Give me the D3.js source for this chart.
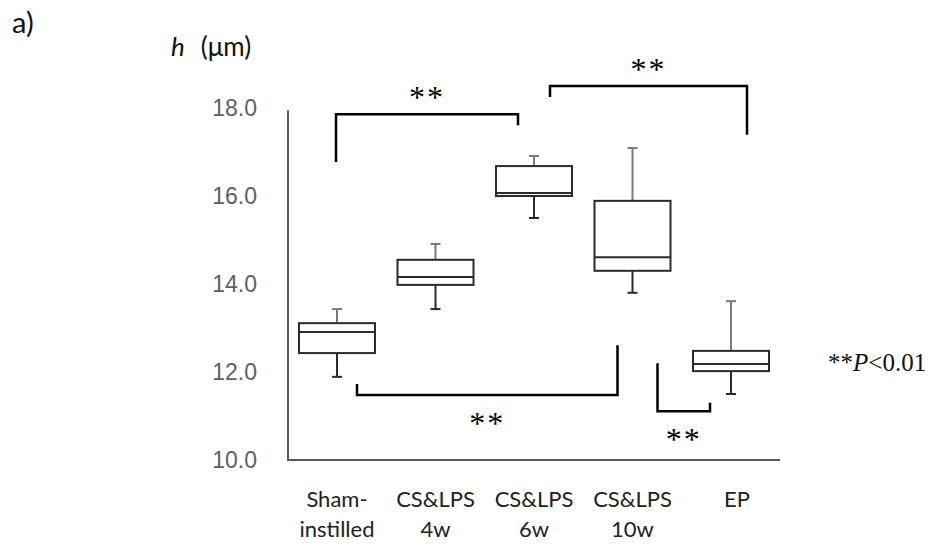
<!DOCTYPE html>
<html>
<head>
<meta charset="utf-8">
<script src="https://cdn.jsdelivr.net/npm/d3@7"></script>
<style>
  body { margin: 0; background: #fff; }
  svg { display: block; }
</style>
</head>
<body>
<svg id="chart" width="932" height="546"></svg>
<script>
// group labels, two lines each
const groups = ["Sham-instilled", "CS&LPS 4w", "CS&LPS 6w", "CS&LPS 10w", "EP"];
const labelLines = [["Sham-", "instilled"], ["CS&LPS", "4w"], ["CS&LPS", "6w"], ["CS&LPS", "10w"], ["EP", ""]];

// box plot values (h, µm)
const maxVals = [13.43, 14.91, 16.91, 17.09, 13.61];
const q3Vals = [13.11, 14.55, 16.68, 15.89, 12.48];
const medVals = [12.91, 14.16, 16.07, 14.61, 12.18];
const q1Vals = [12.43, 13.98, 16.00, 14.30, 12.02];
const minVals = [11.89, 13.43, 15.50, 13.80, 11.50];

const yTicks = [10, 12, 14, 16, 18];

// significance brackets: groups compared, bar level and end levels
const bracketFrom = [0, 2, 0, 3];
const bracketTo = [2, 4, 3, 4];
const bracketBar = [17.86, 18.50, 11.48, 11.11];
const bracketLeftEnd = [16.77, 18.25, 11.73, 12.20];
const bracketRightEnd = [17.61, 17.39, 12.61, 11.30];
const bracketAbove = [true, true, false, false];

const svg = d3.select("#chart");

const x = d3.scalePoint().domain(groups).range([337, 731]);
const y = d3.scaleLinear().domain([10, 18]).range([460, 108]);

const boxW = 76, capW = 10;
const axisColor = "#595959";

// axes (just the two lines, as in the original)
svg.append("line")
    .attr("x1", 288).attr("x2", 288)
    .attr("y1", y(17.95)).attr("y2", y(10))
    .attr("stroke", axisColor).attr("stroke-width", 2);
svg.append("line")
    .attr("x1", 287).attr("x2", 780)
    .attr("y1", y(10)).attr("y2", y(10))
    .attr("stroke", axisColor).attr("stroke-width", 2);

svg.append("g")
    .selectAll("text")
    .data(yTicks)
    .join("text")
    .attr("x", 257)
    .attr("y", d => y(d))
    .attr("dy", "0.36em")
    .attr("text-anchor", "end")
    .attr("font-family", "Liberation Sans, Arial, sans-serif")
    .attr("font-size", "23px")
    .attr("fill", "#5f5f5f")
    .text(d => d.toFixed(1));

const data = groups.map((g, i) => ({
    g, max: maxVals[i], q3: q3Vals[i], med: medVals[i], q1: q1Vals[i], min: minVals[i]
}));

const box = svg.append("g").selectAll("g")
    .data(data)
    .join("g");

// upper whisker (grey) and lower whisker (dark)
box.append("line")
    .attr("x1", d => x(d.g)).attr("x2", d => x(d.g))
    .attr("y1", d => y(d.max)).attr("y2", d => y(d.q3))
    .attr("stroke", "#7a7a7a").attr("stroke-width", 2);
box.append("line")
    .attr("x1", d => x(d.g) - capW / 2).attr("x2", d => x(d.g) + capW / 2)
    .attr("y1", d => y(d.max)).attr("y2", d => y(d.max))
    .attr("stroke", "#7a7a7a").attr("stroke-width", 2);
box.append("line")
    .attr("x1", d => x(d.g)).attr("x2", d => x(d.g))
    .attr("y1", d => y(d.q1)).attr("y2", d => y(d.min))
    .attr("stroke", "#2b2b2b").attr("stroke-width", 2);
box.append("line")
    .attr("x1", d => x(d.g) - capW / 2).attr("x2", d => x(d.g) + capW / 2)
    .attr("y1", d => y(d.min)).attr("y2", d => y(d.min))
    .attr("stroke", "#2b2b2b").attr("stroke-width", 2);

box.append("rect")
    .attr("x", d => x(d.g) - boxW / 2)
    .attr("width", boxW)
    .attr("y", d => y(d.q3))
    .attr("height", d => y(d.q1) - y(d.q3))
    .attr("fill", "#fff")
    .attr("stroke", "#2b2b2b").attr("stroke-width", 2);
box.append("line")
    .attr("x1", d => x(d.g) - boxW / 2).attr("x2", d => x(d.g) + boxW / 2)
    .attr("y1", d => y(d.med)).attr("y2", d => y(d.med))
    .attr("stroke", "#2b2b2b").attr("stroke-width", 2);

// x labels
const xl = svg.append("g")
    .attr("font-family", "Lato, 'Open Sans', sans-serif")
    .attr("font-size", "22px")
    .attr("fill", "#222")
    .attr("text-anchor", "middle");
xl.selectAll("text")
    .data(groups)
    .join("text")
    .attr("x", d => x(d) + (d === "EP" ? 6 : 0))
    .attr("y", 507)
    .selectAll("tspan")
    .data((d, i) => labelLines[i])
    .join("tspan")
    .attr("x", function () { return this.parentNode.getAttribute("x"); })
    .attr("dy", (d, i) => i === 0 ? 0 : 30)
    .text(d => d);

// significance brackets
const offFrom = [-1, 16, 20, 25];
const offTo = [-16, 16, -15, -21];
const brackets = bracketFrom.map((f, i) => ({
    x1: x(groups[f]) + offFrom[i],
    x2: x(groups[bracketTo[i]]) + offTo[i],
    bar: bracketBar[i], l: bracketLeftEnd[i], r: bracketRightEnd[i], above: bracketAbove[i]
}));

svg.append("g").selectAll("path")
    .data(brackets)
    .join("path")
    .attr("d", d => `M${d.x1},${y(d.l)}V${y(d.bar)}H${d.x2}V${y(d.r)}`)
    .attr("fill", "none")
    .attr("stroke", "#000")
    .attr("stroke-width", 2.5);

svg.append("g").selectAll("text")
    .data(brackets)
    .join("text")
    .attr("x", d => (d.x1 + d.x2) / 2)
    .attr("y", d => y(d.bar) + (d.above ? -6 : 39))
    .attr("text-anchor", "middle")
    .attr("font-family", "Liberation Serif, 'Times New Roman', serif")
    .attr("font-size", "32px")
    .attr("letter-spacing", "2px")
    .text("**");

// p-value note
const note = svg.append("text")
    .attr("x", 828)
    .attr("y", y(12.03))
    .attr("font-family", "Liberation Serif, 'Times New Roman', serif")
    .attr("font-size", "25px")
    .attr("fill", "#111");
note.append("tspan").text("**");
note.append("tspan").attr("font-style", "italic").text("P");
note.append("tspan").text("<0.01");

// axis title and panel label
const title = svg.append("text")
    .attr("x", 171)
    .attr("y", 56)
    .attr("font-family", "Lato, 'Open Sans', sans-serif")
    .attr("font-size", "26px")
    .attr("fill", "#111");
title.append("tspan").attr("font-style", "italic").text("h");
title.append("tspan").attr("dx", 16).text("(μm)");

svg.append("text")
    .attr("x", 12)
    .attr("y", 33)
    .attr("font-family", "Lato, 'Open Sans', sans-serif")
    .attr("font-size", "29px")
    .attr("fill", "#111")
    .text("a)");
</script>
</body>
</html>
